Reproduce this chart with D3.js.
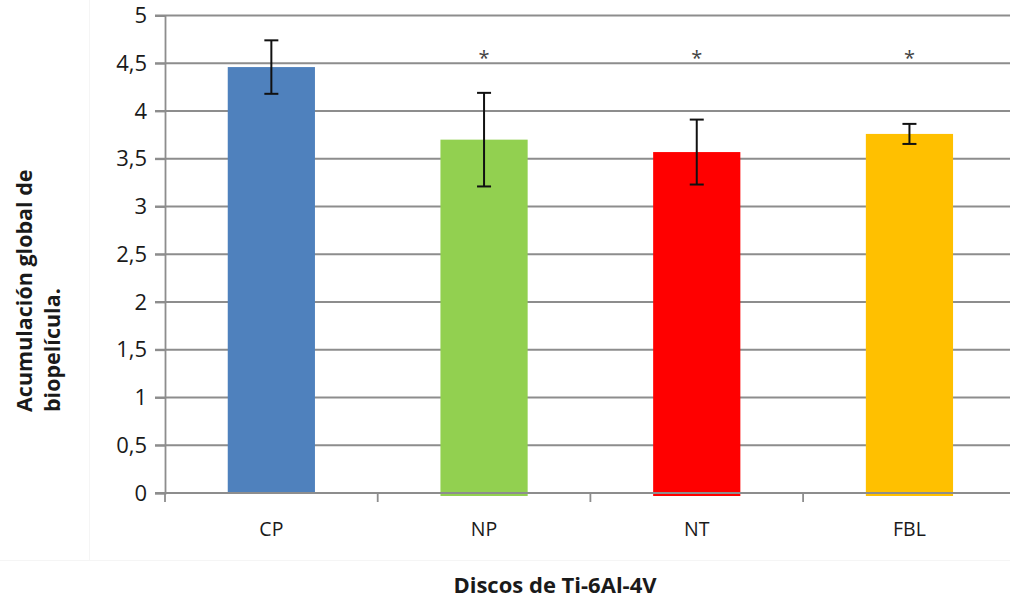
<!DOCTYPE html>
<html>
<head>
<meta charset="utf-8">
<script src="https://cdn.jsdelivr.net/npm/d3@7"></script>
<style>
  html, body { margin: 0; padding: 0; background: #fff; }
  svg { display: block; font-family: "Open Sans", Lato, sans-serif; }
</style>
</head>
<body>
<svg id="chart" width="1010" height="598"></svg>
<script>
// Biofilm accumulation per Ti-6Al-4V disc type (mean ± SD)
const categories = ["CP", "NP", "NT", "FBL"];
const means = [4.46, 3.70, 3.57, 3.76];
const errors = [0.28, 0.49, 0.34, 0.105];
const significant = [false, true, true, true];
const barColors = ["#4f81bd", "#92d050", "#ff0000", "#ffc000"];
const yTicks = [0, 0.5, 1, 1.5, 2, 2.5, 3, 3.5, 4, 4.5, 5];
const yTitleLines = ["Acumulación global de", "biopelícula."];
const xTitle = "Discos de Ti-6Al-4V";

const svg = d3.select("#chart");
const plot = { left: 165, top: 15.5, bottom: 493, band: 212.7 };

const x = d3.scaleBand()
  .domain(categories)
  .range([plot.left, plot.left + plot.band * categories.length])
  .padding(0);
const y = d3.scaleLinear().domain([0, 5]).range([plot.bottom, plot.top]);

const fmt = v => String(v).replace(".", ",");

// faint outer frame lines of the chart area
svg.append("line").attr("x1", 89.5).attr("x2", 89.5).attr("y1", 0).attr("y2", 560)
  .attr("stroke", "#f5f5f5").attr("stroke-width", 1);
svg.append("line").attr("x1", 0).attr("x2", 1010).attr("y1", 560.5).attr("y2", 560.5)
  .attr("stroke", "#f5f5f5").attr("stroke-width", 1);

// horizontal gridlines
svg.append("g")
  .selectAll("line")
  .data(yTicks)
  .join("line")
  .attr("x1", plot.left - 10)
  .attr("x2", 1010)
  .attr("y1", d => y(d))
  .attr("y2", d => y(d))
  .attr("stroke", "#8d8d8d")
  .attr("stroke-width", 1.8);

// y axis with tick labels
const yAxis = svg.append("g")
  .attr("transform", `translate(${plot.left},0)`)
  .call(d3.axisLeft(y).tickValues(yTicks).tickFormat(fmt).tickSize(10).tickPadding(8));
yAxis.select(".domain").attr("stroke", "#8d8d8d").attr("stroke-width", 1.8);
yAxis.selectAll(".tick line").attr("stroke", "#8d8d8d").attr("stroke-width", 1.8);
yAxis.selectAll(".tick text")
  .attr("font-size", 22).attr("fill", "#1a1a1a")
  .attr("font-family", "'Open Sans', sans-serif");

// bars
const barW = x.bandwidth() * 0.41;
svg.append("g")
  .selectAll("rect")
  .data(categories)
  .join("rect")
  .attr("x", d => x(d) + x.bandwidth() / 2 - barW / 2)
  .attr("y", (d, i) => y(means[i]))
  .attr("width", barW)
  .attr("height", (d, i) => y(0) - y(means[i]) + (i > 0 ? 3 : 0))
  .attr("fill", (d, i) => barColors[i]);

// x axis line and category boundary ticks
const xAxis = svg.append("g")
  .attr("transform", `translate(0,${plot.bottom})`)
  .call(d3.axisBottom(x).tickSize(0).tickPadding(29));
xAxis.select(".domain").attr("stroke", "#8d8d8d").attr("stroke-width", 1.8)
  .attr("d", `M${plot.left - 10},0H1010`);
xAxis.selectAll(".tick text")
  .attr("font-size", 19.5).attr("fill", "#1a1a1a")
  .attr("font-family", "'Open Sans', sans-serif");
svg.append("g")
  .selectAll("line")
  .data(categories)
  .join("line")
  .attr("x1", d => x(d))
  .attr("x2", d => x(d))
  .attr("y1", plot.bottom)
  .attr("y2", plot.bottom + 9)
  .attr("stroke", "#8d8d8d")
  .attr("stroke-width", 1.8);

// error bars
const eb = svg.append("g").attr("stroke", "#111").attr("stroke-width", 2);
categories.forEach((c, i) => {
  const cx = x(c) + x.bandwidth() / 2;
  const hi = y(means[i] + errors[i]);
  const lo = y(means[i] - errors[i]);
  eb.append("line").attr("x1", cx).attr("x2", cx).attr("y1", hi).attr("y2", lo);
  eb.append("line").attr("x1", cx - 7).attr("x2", cx + 7).attr("y1", hi).attr("y2", hi);
  eb.append("line").attr("x1", cx - 7).attr("x2", cx + 7).attr("y1", lo).attr("y2", lo);
});

// significance markers
svg.append("g")
  .selectAll("text")
  .data(categories.filter((c, i) => significant[i]))
  .join("text")
  .attr("x", d => x(d) + x.bandwidth() / 2)
  .attr("y", 65)
  .attr("text-anchor", "middle")
  .attr("font-size", 20)
  .attr("fill", "#444")
  .text("*");

// axis titles
svg.append("g")
  .selectAll("text")
  .data(yTitleLines)
  .join("text")
  .attr("transform", (d, i) => `translate(${32 + i * 28},412) rotate(-90)`)
  .attr("text-anchor", "start")
  .attr("font-size", 21.5)
  .attr("font-weight", "bold")
  .attr("fill", "#1a1a1a")
  .text(d => d);

svg.append("text")
  .attr("x", 555)
  .attr("y", 593)
  .attr("text-anchor", "middle")
  .attr("font-size", 22)
  .attr("font-weight", "bold")
  .attr("fill", "#1a1a1a")
  .text(xTitle);
</script>
</body>
</html>
